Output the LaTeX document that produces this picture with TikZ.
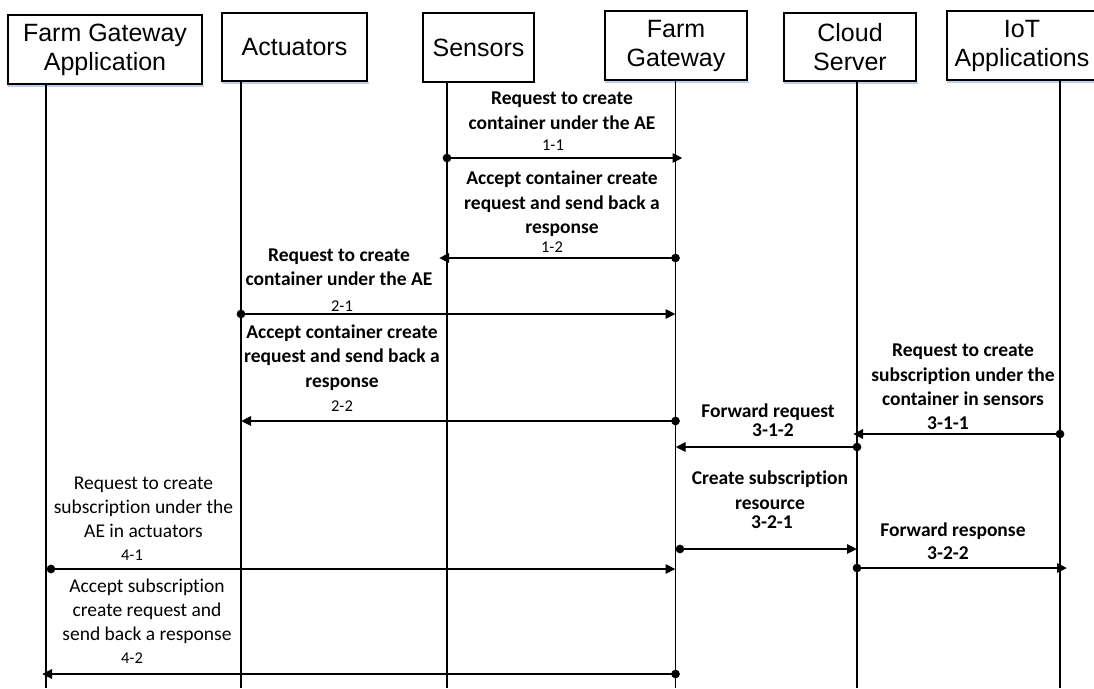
\documentclass[tikz,border=0pt]{standalone}
\usepackage{fontspec}
\setmainfont{Carlito}[Ligatures=CommonOff]
\newfontfamily\hdfont{Liberation Sans}
\usetikzlibrary{arrows.meta}
\definecolor{shadowblue}{RGB}{185,208,238}
\begin{document}
\begin{tikzpicture}[x=1pt,y=-1pt,
  hdr/.style={draw=black,line width=1.2pt,fill=white,inner sep=0pt,align=center,font=\hdfont\fontsize{25}{29}\selectfont},
  boxshadow/.style={draw=shadowblue,line width=2pt},
  life/.style={line width=1.3pt},
  msg/.style={line width=2.6pt,{Circle[length=8.5pt]}-{Triangle[length=10pt,width=9pt]},shorten <=-4.25pt},
  lbl/.style={font=\bfseries\fontsize{19.5}{24.5}\selectfont,align=center,inner sep=0pt},
  lblr/.style={font=\fontsize{19.5}{24}\selectfont,align=center,inner sep=0pt},
  num/.style={font=\fontsize{16.5}{18}\selectfont,inner sep=0pt},
  numb/.style={font=\bfseries\fontsize{19.5}{20}\selectfont,inner sep=0pt}]
\useasboundingbox (0,0) rectangle (1094,688);
\clip (0,0) rectangle (1094,688);

% header boxes
\node[hdr,minimum width=194pt,minimum height=69pt] (fga) at (105,49.5) {Farm Gateway\\Application};
\node[hdr,minimum width=145pt,minimum height=68pt] (act) at (294.5,47) {Actuators};
\node[hdr,minimum width=111pt,minimum height=69pt] (sens) at (478.5,47.5) {Sensors};
\node[hdr,minimum width=142pt,minimum height=69pt] (fg) at (676,45.5) {Farm\\Gateway};
\node[hdr,minimum width=132pt,minimum height=68pt] (cloud) at (850,47) {Cloud\\Server};
\node[hdr,minimum width=150pt,minimum height=69pt] (iot) at (1022,45.5) {IoT\\Applications};

% faint blue shadows under boxes
\foreach \b in {fga,act,fg,cloud,iot}{
  \draw[boxshadow] ([xshift=1pt,yshift=-1.8pt]\b.south west) -- ([xshift=1pt,yshift=-1.8pt]\b.south east);
}

% lifelines
\coordinate (fgaT) at (46,84);    \coordinate (fgaB) at (46,688);
\coordinate (actT) at (241,81);   \coordinate (actB) at (241,688);
\coordinate (sensT) at (447,82);  \coordinate (sensB) at (447,688);
\coordinate (fgT) at (675.5,80);  \coordinate (fgB) at (675.5,688);
\coordinate (cloudT) at (857,81); \coordinate (cloudB) at (857,688);
\coordinate (iotT) at (1060,80);  \coordinate (iotB) at (1060,688);
\foreach \l in {fga,act,sens,fg,cloud,iot}{
  \draw[life] (\l T) -- (\l B);
}

% messages
\draw[msg,shorten >=-7pt] (sensT |- 0,158) -- (fgT |- 0,158);
\draw[msg,shorten >=-8pt] (fgT |- 0,258) -- (sensT |- 0,258);
\draw[msg] (actT |- 0,314) -- (fgT |- 0,314);
\draw[msg] (fgT |- 0,421) -- (actT |- 0,421);
\draw[msg,shorten >=-4pt] (iotT |- 0,434) -- (cloudT |- 0,434);
\draw[msg] (cloudT |- 0,447) -- (fgT |- 0,447);
\draw[msg,shorten <=0.25pt] (fgT |- 0,549) -- (cloudT |- 0,549);
\draw[msg,shorten >=-7pt] (cloudT |- 0,568) -- (iotT |- 0,568);
\draw[msg,shorten <=0.75pt] (fgaT |- 0,569) -- (fgT |- 0,569);
\draw[msg,shorten >=-4pt] (fgT |- 0,674) -- (fgaT |- 0,674);

% labels
\node[lbl] (l11) at (562,110.5) {Request to create\\container under the AE};
\node[num] (n11) at (553,145) {1-1};
\node[lbl] (l12) at (562,204) {Accept container create\\request and send back a\\response};
\node[num] (n12) at (552,247) {1-2};
\node[lbl] (l21) at (339,267) {Request to create\\container under the AE};
\node[num] (n21) at (342,306) {2-1};
\node[lbl] (l22) at (342,357.5) {Accept container create\\request and send back a\\response};
\node[num] (n22) at (342,406) {2-2};
\node[lbl] (l311) at (963,375) {Request to create\\subscription under the\\container in sensors};
\node[numb] (n311) at (948,423) {3-1-1};
\node[lbl] (l312) at (768,412) {Forward request};
\node[numb] (n312) at (773,430) {3-1-2};
\node[lbl] (l321) at (770,490) {Create subscription\\resource};
\node[numb] (n321) at (772,522) {3-2-1};
\node[lbl] (l322) at (953,531) {Forward response};
\node[numb] (n322) at (948,553) {3-2-2};
\node[lblr] (l41) at (143.5,507) {Request to create\\subscription under the\\AE in actuators};
\node[num] (n41) at (132,555) {4-1};
\node[lblr] (l42) at (147,611) {Accept subscription\\create request and\\send back a response};
\node[num] (n42) at (132,658) {4-2};
\end{tikzpicture}
\end{document}
